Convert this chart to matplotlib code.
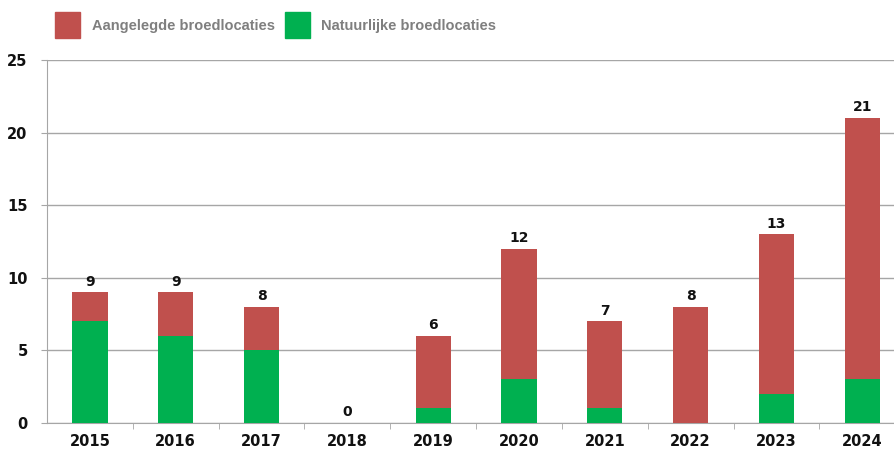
import matplotlib.pyplot as plt
import numpy as np

years = ['2015', '2016', '2017', '2018', '2019', '2020', '2021', '2022', '2023', '2024']
natuurlijk = [7, 6, 5, 0, 1, 3, 1, 0, 2, 3]
aangelegd = [2, 3, 3, 0, 5, 9, 6, 8, 11, 18]
totaal = [9, 9, 8, 0, 6, 12, 7, 8, 13, 21]
legend_labels = ['Aangelegde broedlocaties', 'Natuurlijke broedlocaties']

red = '#C0504D'
green = '#00B050'
grey = '#A6A6A6'

fig = plt.figure(figsize=(8.94, 4.5), dpi=100)
ax = fig.add_axes([0.0526, 0.06, 0.9474, 0.8067])

x = np.arange(len(years))
ax.bar(x, natuurlijk, width=0.41, color=green, zorder=3)
ax.bar(x, aangelegd, width=0.41, bottom=natuurlijk, color=red, zorder=3)

for xi, t in zip(x, totaal):
    ax.text(xi, t + 0.25, str(t), ha='center', va='bottom',
            fontsize=10, fontweight='bold', color='#111111')

ax.set_ylim(0, 25)
ax.set_xlim(-0.5, 9.37)
ax.set_yticks([0, 5, 10, 15, 20, 25])
ax.grid(axis='y', color=grey, linewidth=1.0, zorder=0)

ax.set_xticks(x)
ax.set_xticklabels(years, fontsize=10.5, fontweight='bold', color='#111111')
ax.set_xticks(x[:-1] + 0.5, minor=True)
ax.tick_params(axis='x', which='major', length=0, pad=8)
ax.tick_params(axis='x', which='minor', length=4, color=grey, direction='out')
ax.tick_params(axis='y', length=4, color=grey, labelsize=10.5, pad=10)
for lab in ax.get_yticklabels():
    lab.set_fontweight('bold')
    lab.set_color('#111111')

for side in ['top', 'right']:
    ax.spines[side].set_visible(False)
for side in ['left', 'bottom']:
    ax.spines[side].set_color(grey)

# legend drawn by hand to match the placement
W, H = 894, 450
for (x0, tx), col, lab in zip([(55, 92), (285, 321)], [red, green], legend_labels):
    fig.patches.append(plt.Rectangle((x0 / W, 1 - 38 / H), 25 / W, 26 / H,
                                     transform=fig.transFigure, color=col))
    fig.text(tx / W, 1 - 26 / H, lab, ha='left', va='center',
             family=['Liberation Sans Narrow', 'Liberation Sans', 'DejaVu Sans'],
             fontweight='bold', fontsize=10.5, color='#7F7F7F')

fig.savefig('out.png', dpi=100)
